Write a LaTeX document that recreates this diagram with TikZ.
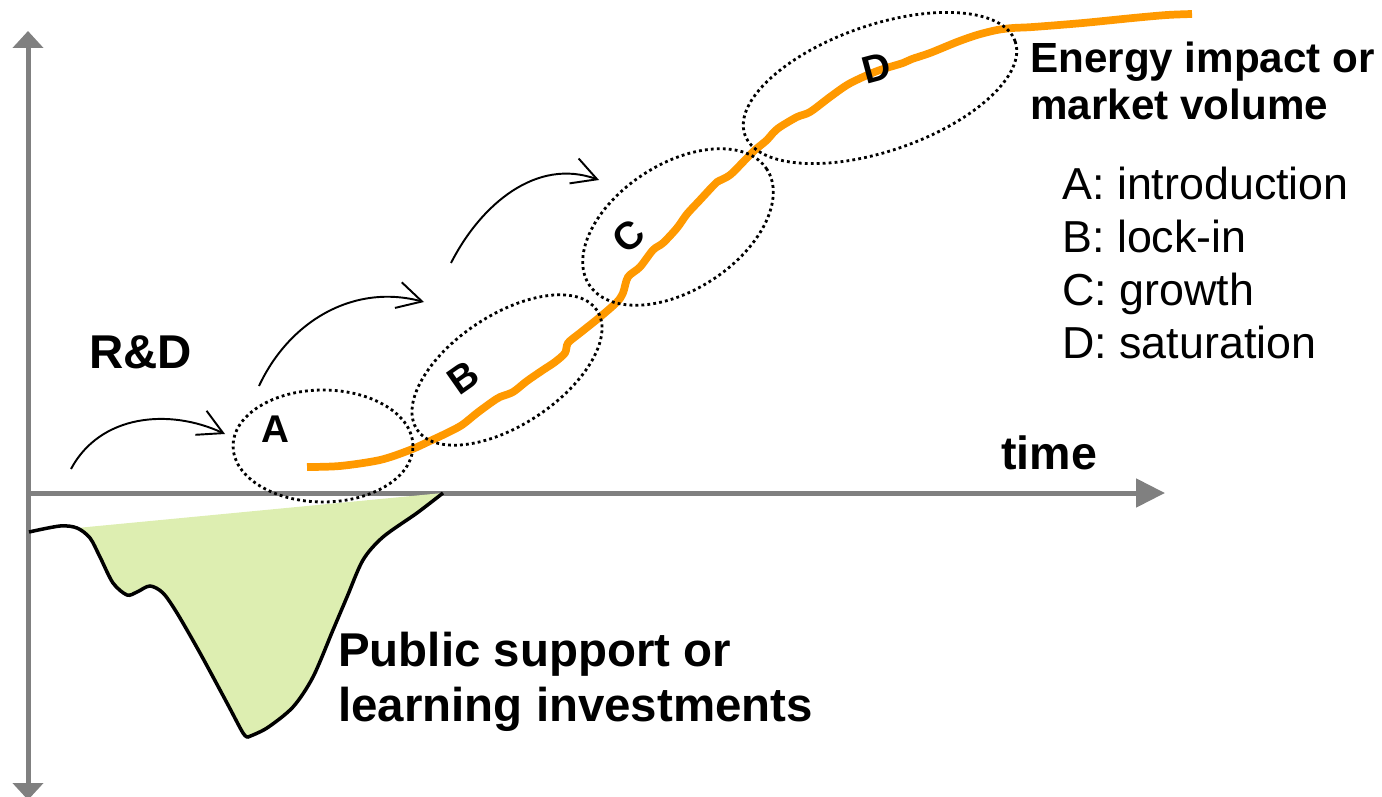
\documentclass[tikz,border=0pt]{standalone}
\usepackage{fontspec}
\setmainfont{Liberation Sans}
\usetikzlibrary{arrows.meta,shapes.geometric}
\definecolor{curOrange}{HTML}{FF9900}
\definecolor{curGray}{HTML}{808080}
\definecolor{curGreen}{HTML}{DDEEB1}

\begin{document}
\begin{tikzpicture}[x=0.02cm, y=0.02cm,
      axis/.style={draw=curGray, line width=0.1cm},
      phase/.style={ellipse, draw, line width=1.6pt, dash pattern=on 1.6pt off 1.8pt, inner sep=0},
      tag/.style={font=\fontsize{22}{26}\selectfont\bfseries, inner sep=0},
      hop/.style={line width=1.1pt, -{Straight Barb[length=0.49cm, width=0.53cm]}},
      head/.style 2 args={anchor=base west, inner sep=0, align=left,
                   font=\fontsize{#1}{#2}\selectfont\bfseries},
      legend/.style={anchor=base west, inner sep=0, align=left,
                     font=\fontsize{25.5}{30}\selectfont}]
    \useasboundingbox (0,0) rectangle (1382,-797);
    % axes
    \coordinate (o) at (28,-493);
    \coordinate (ytop) at (28,-31);
    \coordinate (ybot) at (28,-800);
    \coordinate (xend) at (1165,-493);
    \draw[axis, {Triangle[length=0.34cm, width=0.6cm]}-{Triangle[length=0.34cm, width=0.6cm]}] (ybot) -- (ytop);
    \draw[axis, -{Triangle[length=0.58cm, width=0.56cm]}] (o) -- (xend);
    % public support
    \fill[curGreen] plot[smooth, tension=0.5] coordinates {(77,-528) (90,-538) (100,-557)
        (113,-583) (127,-595) (137,-592) (150,-586) (163,-593) (177,-613) (200,-653)
        (227,-703) (243,-733) (248,-737)} -- plot[smooth, tension=0.5] coordinates {(248,-737)
        (267,-728) (293,-707) (313,-677) (333,-630) (347,-597) (363,-560) (383,-537)
        (417,-513) (443,-493)} -- cycle;
    \draw[line width=2pt] plot[smooth, tension=0.5] coordinates {(29,-532) (60,-526)
        (77,-528) (90,-538) (100,-557) (113,-583) (127,-595) (137,-592) (150,-586)
        (163,-593) (177,-613) (200,-653) (227,-703) (243,-733) (248,-737)}
        -- plot[smooth, tension=0.5] coordinates {(248,-737) (267,-728) (293,-707)
        (313,-677) (333,-630) (347,-597) (363,-560) (383,-537) (417,-513) (443,-493)};
    % market curve
    \draw[curOrange, line width=4.4pt] plot[smooth, tension=0.5] coordinates {
        (307,-467) (340,-466) (380,-460) (410,-450) (430,-441) (447,-433) (462,-425)
        (477,-413) (492,-402) (500,-397) (513,-392) (527,-381) (543,-370) (555,-362)
        (565,-353) (568,-343) (580,-333) (600,-317) (617,-302) (623,-293) (628,-277)
        (640,-267) (653,-250) (663,-243) (677,-228) (687,-214) (700,-200) (712,-187)
        (717,-182) (730,-175) (745,-160) (755,-150) (767,-140) (773,-133) (780,-127)
        (797,-117) (810,-112) (830,-97) (847,-85) (863,-77) (880,-70) (903,-63)
        (912,-59) (930,-53) (957,-42) (977,-35) (997,-30) (1013,-28) (1033,-27)
        (1083,-23) (1133,-18) (1167,-15) (1192,-14)};
    % phases
    \node[phase, minimum width=3.6cm, minimum height=2.24cm] (ellA) at (323,-446) {};
    \node[phase, minimum width=4.32cm, minimum height=2.2cm, rotate=33.5] (ellB) at (507,-370) {};
    \node[phase, minimum width=4.24cm, minimum height=2.52cm, rotate=33] (ellC) at (678,-227) {};
    \node[phase, minimum width=5.72cm, minimum height=2.52cm, rotate=19] (ellD) at (880,-88) {};
    \node[tag] (tagA) at (275,-429) {A};
    \node[tag, rotate=35] (tagB) at (463,-378) {B};
    \node[tag, rotate=40] (tagC) at (629,-236) {C};
    \node[tag, rotate=15] (tagD) at (877,-68) {D};
    % R&D arrows
    \coordinate (s1) at (71,-469);
    \coordinate (e1) at (225,-434);
    \coordinate (s2) at (259,-386);
    \coordinate (e2) at (424,-302);
    \coordinate (s3) at (451,-263);
    \coordinate (e3) at (599,-180);
    \draw[hop] (s1) to[out=62, in=155] (e1);
    \draw[hop] (s2) to[out=65, in=165] (e2);
    \draw[hop] (s3) to[out=63, in=160] (e3);
    % labels (multi-line nodes sit on their last baseline)
    \node[head={27}{31}] (rd) at (89,-368) {R\&D};
    \node[head={24}{27.2}] (energy) at (1030,-120) {Energy impact or\\market volume};
    \node[head={26.5}{30}] (time) at (1001,-469) {time};
    \node[head={27}{31.2}] (support) at (338,-721) {Public support or\\learning investments};
    \node[legend] (phases) at (1062,-358) {A: introduction\\B: lock-in\\C: growth\\D: saturation};
  \end{tikzpicture}
\end{document}
